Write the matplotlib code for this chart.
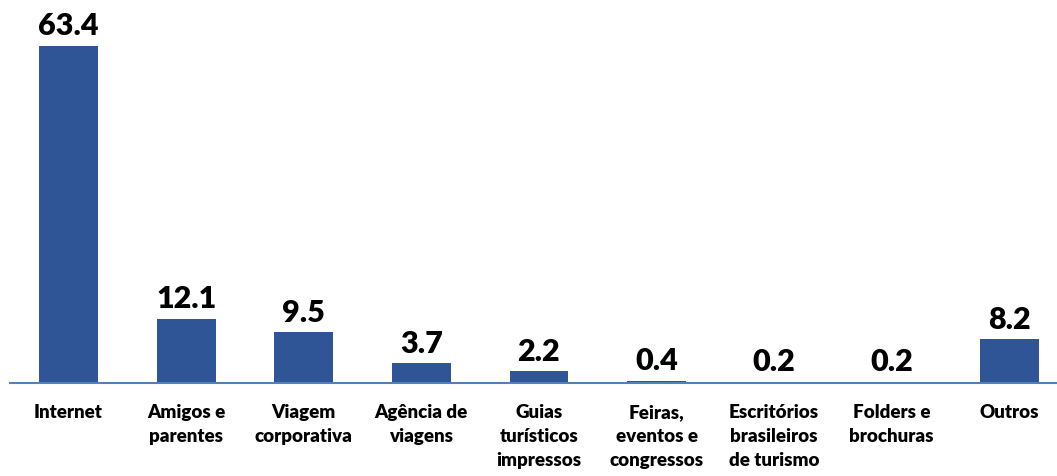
import matplotlib.pyplot as plt
import numpy as np

plt.rcParams['font.family'] = ['Lato', 'DejaVu Sans']

# Canais de informação usados na viagem (%)
categorias = ['Internet', 'Amigos e\nparentes', 'Viagem\ncorporativa', 'Agência de\nviagens',
              'Guias\nturísticos\nimpressos', 'Feiras,\neventos e\ncongressos',
              'Escritórios\nbrasileiros\nde turismo', 'Folders e\nbrochuras', 'Outros']
valores = [63.4, 12.1, 9.5, 3.7, 2.2, 0.4, 0.2, 0.2, 8.2]
rotulos = ['63.4', '12.1', '9.5', '3.7', '2.2', '0.4', '0.2', '0.2', '8.2']

fig = plt.figure(figsize=(10.57, 4.76), dpi=100)
# axis runs past the right edge like the original slide
ax = fig.add_axes([0.0092, 0.1954, 1.1126, 0.8046])

x = np.arange(len(categorias))
ax.bar(x, valores, width=0.5, color='#2F5597')

for xi, v, r in zip(x, valores, rotulos):
    ax.annotate(r, (xi, v), xytext=(0, 4), textcoords='offset points',
                ha='center', va='bottom', fontsize=22, fontweight='heavy')

ax.set_xlim(-0.5, 9.5)
ax.set_ylim(0, 72.06)
ax.set_xticks(x)
ax.set_xticklabels(categorias, fontsize=13.5, fontweight='heavy', linespacing=1.5, va='top')
ax.tick_params(axis='x', length=0, pad=15)
ax.set_yticks([])

for s in ['top', 'left', 'right']:
    ax.spines[s].set_visible(False)
ax.spines['bottom'].set_color('#4F81BD')
ax.spines['bottom'].set_linewidth(1.5)

fig.savefig('out.png', dpi=100)
